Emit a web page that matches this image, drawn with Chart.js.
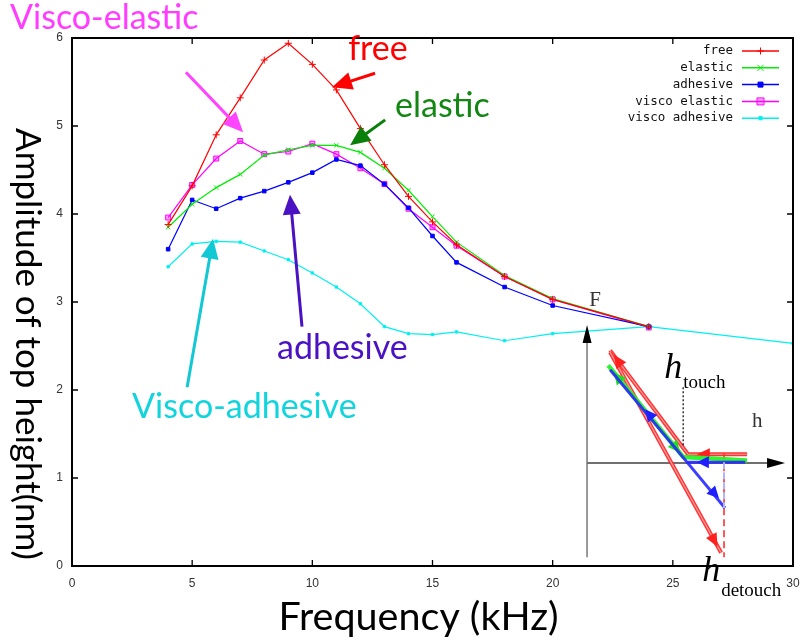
<!DOCTYPE html>
<html>
<head>
<meta charset="utf-8">
<script src="https://cdn.jsdelivr.net/npm/chart.js@4/dist/chart.umd.min.js"></script>
<style>
  html, body { margin: 0; padding: 0; background: #fff; }
  #wrap { width: 805px; height: 640px; position: relative; }
</style>
</head>
<body>
<div id="wrap"><canvas id="c" width="805" height="640"></canvas></div>
<script>
// Drive frequency (kHz) and measured amplitude of the top height (nm)
const freq = [4, 5, 6, 7, 8, 9, 10, 11, 12, 13, 14, 15, 16, 18, 20, 24];
const freeAmp = [3.88, 4.32, 4.90, 5.32, 5.75, 5.94, 5.70, 5.41, 4.97, 4.56, 4.20, 3.91, 3.65, 3.29, 3.03, 2.72];
const elasticAmp = [3.85, 4.11, 4.30, 4.45, 4.67, 4.73, 4.78, 4.78, 4.70, 4.52, 4.27, 3.97, 3.68, 3.30, 3.04, 2.72];
const adhesiveAmp = [3.60, 4.16, 4.06, 4.18, 4.26, 4.36, 4.47, 4.62, 4.55, 4.34, 4.07, 3.75, 3.45, 3.17, 2.96, 2.72];
const viscoElasticAmp = [3.96, 4.33, 4.63, 4.83, 4.68, 4.71, 4.80, 4.68, 4.52, 4.34, 4.06, 3.85, 3.64, 3.29, 3.03, 2.71];
const viscoAdhesiveFreq = [4, 5, 6, 7, 8, 9, 10, 11, 12, 13, 14, 15, 16, 18, 20, 24, 30];
const viscoAdhesiveAmp = [3.40, 3.66, 3.69, 3.68, 3.58, 3.48, 3.33, 3.17, 2.98, 2.72, 2.64, 2.63, 2.66, 2.56, 2.64, 2.72, 2.53];

const seriesNames = ['free', 'elastic', 'adhesive', 'visco elastic', 'visco adhesive'];
const xTickValues = [0, 5, 10, 15, 20, 25, 30];
const yTickValues = [0, 1, 2, 3, 4, 5, 6];

const xTitle = 'Frequency (kHz)';
const yTitle = 'Amplitude of top height(nm)';

const toPoints = (xs, ys) => xs.map((x, i) => ({ x, y: ys[i] }));

const seriesStyle = [
  { color: '#ff0000', pointStyle: 'cross', radius: 3.5, fill: '#ff0000' },
  { color: '#00ee00', pointStyle: 'crossRot', radius: 3, fill: '#00ee00' },
  { color: '#0000ff', pointStyle: 'rect', radius: 2.5, fill: '#0000ff' },
  { color: '#ff00ff', pointStyle: 'rect', radius: 3.5, fill: 'rgba(255,0,255,0.35)' },
  { color: '#00f0f0', pointStyle: 'rect', radius: 1.6, fill: '#00f0f0' }
];
const seriesData = [
  toPoints(freq, freeAmp),
  toPoints(freq, elasticAmp),
  toPoints(freq, adhesiveAmp),
  toPoints(freq, viscoElasticAmp),
  toPoints(viscoAdhesiveFreq, viscoAdhesiveAmp)
];

// Callout labels and their pointer arrows, in data units (kHz, nm)
const callouts = [
  { text: 'Visco-elastic', color: '#ff3cff', at: [-2.58, 6.10] },
  { text: 'free', color: '#ff0000', at: [11.49, 5.75] },
  { text: 'elastic', color: '#138713', at: [13.44, 5.10] },
  { text: 'adhesive', color: '#4a12c2', at: [8.53, 2.35] },
  { text: 'Visco-adhesive', color: '#12d4dc', at: [2.50, 1.68] }
];
const pointers = [
  { color: '#ff44ff', from: [4.74, 5.61], to: [7.12, 4.93] },
  { color: '#ff0000', from: [12.61, 5.60], to: [10.82, 5.44] },
  { color: '#0a800a', from: [13.03, 5.07], to: [11.57, 4.78] },
  { color: '#4a12c2', from: [9.57, 2.72], to: [9.07, 4.22] },
  { color: '#12c8d4', from: [4.79, 2.03], to: [5.87, 3.72] }
];

function arrow(ctx, x1, y1, x2, y2, color, width, headLen, headHalf) {
  const ang = Math.atan2(y2 - y1, x2 - x1);
  const bx = x2 - Math.cos(ang) * headLen, by = y2 - Math.sin(ang) * headLen;
  ctx.save();
  ctx.strokeStyle = color; ctx.fillStyle = color; ctx.lineWidth = width; ctx.lineCap = 'butt';
  ctx.beginPath(); ctx.moveTo(x1, y1); ctx.lineTo(bx + Math.cos(ang) * 2, by + Math.sin(ang) * 2); ctx.stroke();
  ctx.beginPath();
  ctx.moveTo(x2, y2);
  ctx.lineTo(bx + Math.sin(ang) * headHalf, by - Math.cos(ang) * headHalf);
  ctx.lineTo(bx - Math.sin(ang) * headHalf, by + Math.cos(ang) * headHalf);
  ctx.closePath(); ctx.fill();
  ctx.restore();
}

function head(ctx, x, y, ang, color, len, half) {
  const bx = x - Math.cos(ang) * len, by = y - Math.sin(ang) * len;
  ctx.save(); ctx.fillStyle = color;
  ctx.beginPath(); ctx.moveTo(x, y);
  ctx.lineTo(bx + Math.sin(ang) * half, by - Math.cos(ang) * half);
  ctx.lineTo(bx - Math.sin(ang) * half, by + Math.cos(ang) * half);
  ctx.closePath(); ctx.fill(); ctx.restore();
}

function drawMarker(ctx, style, x, y) {
  const r = style.radius;
  ctx.save();
  ctx.strokeStyle = style.color; ctx.fillStyle = style.fill; ctx.lineWidth = 1;
  ctx.beginPath();
  if (style.pointStyle === 'cross') {
    ctx.moveTo(x - r, y); ctx.lineTo(x + r, y); ctx.moveTo(x, y - r); ctx.lineTo(x, y + r); ctx.stroke();
  } else if (style.pointStyle === 'crossRot') {
    ctx.moveTo(x - r, y - r); ctx.lineTo(x + r, y + r); ctx.moveTo(x + r, y - r); ctx.lineTo(x - r, y + r); ctx.stroke();
  } else {
    ctx.rect(x - r, y - r, 2 * r, 2 * r); ctx.fill(); ctx.stroke();
  }
  ctx.restore();
}

// Frame with inward, mirrored ticks
const framePlugin = {
  id: 'frame',
  afterDatasetsDraw(chart) {
    const { ctx, chartArea: a, scales: { x, y } } = chart;
    ctx.save();
    ctx.strokeStyle = '#000'; ctx.lineWidth = 1.3;
    ctx.beginPath();
    xTickValues.forEach(v => {
      const p = x.getPixelForValue(v);
      ctx.moveTo(p, a.bottom); ctx.lineTo(p, a.bottom - 6);
      ctx.moveTo(p, a.top); ctx.lineTo(p, a.top + 6);
    });
    yTickValues.forEach(v => {
      const p = y.getPixelForValue(v);
      ctx.moveTo(a.left, p); ctx.lineTo(a.left + 6, p);
      ctx.moveTo(a.right, p); ctx.lineTo(a.right - 6, p);
    });
    ctx.stroke();
    ctx.lineWidth = 2;
    ctx.strokeRect(a.left, a.top, a.right - a.left, a.bottom - a.top);
    ctx.restore();
  }
};

// Key in the upper right: right-aligned label followed by a line sample
const keyPlugin = {
  id: 'key',
  afterDraw(chart) {
    const { ctx, chartArea: a } = chart;
    ctx.save();
    ctx.font = '12.5px "DejaVu Sans Mono"';
    ctx.textAlign = 'right'; ctx.textBaseline = 'middle'; ctx.fillStyle = '#111';
    chart.data.datasets.forEach((ds, i) => {
      const yy = a.top + 13 + i * 16.8;
      const tx = a.right - 60;
      ctx.fillText(ds.label, tx, yy);
      const st = seriesStyle[i];
      ctx.strokeStyle = st.color; ctx.lineWidth = 1.5;
      ctx.beginPath(); ctx.moveTo(tx + 9, yy); ctx.lineTo(tx + 46, yy); ctx.stroke();
      drawMarker(ctx, st, tx + 27.5, yy);
    });
    ctx.restore();
  }
};

// Callout texts and pointer arrows
const calloutPlugin = {
  id: 'callouts',
  afterDatasetsDraw(chart) {
    const { ctx, scales: { x, y } } = chart;
    ctx.save();
    ctx.font = '34px Lato';
    ctx.textAlign = 'left'; ctx.textBaseline = 'alphabetic';
    callouts.forEach(c => {
      ctx.fillStyle = c.color;
      ctx.fillText(c.text, x.getPixelForValue(c.at[0]), y.getPixelForValue(c.at[1]));
    });
    pointers.forEach(p => {
      arrow(ctx, x.getPixelForValue(p.from[0]), y.getPixelForValue(p.from[1]),
        x.getPixelForValue(p.to[0]), y.getPixelForValue(p.to[1]), p.color, 3, 20, 9);
    });
    ctx.restore();
  }
};

// Force-distance sketch (F versus h) placed in the lower right of the plot, in data units
const sketchPlugin = {
  id: 'sketch',
  afterDatasetsDraw(chart) {
    const { ctx, scales: { x, y } } = chart;
    const X = v => x.getPixelForValue(v), Y = v => y.getPixelForValue(v);
    const line = (pts, color, w, dash) => {
      ctx.save(); ctx.strokeStyle = color; ctx.lineWidth = w; ctx.lineJoin = 'round';
      if (dash) ctx.setLineDash(dash);
      ctx.beginPath(); pts.forEach((p, i) => (i ? ctx.lineTo(X(p[0]), Y(p[1])) : ctx.moveTo(X(p[0]), Y(p[1]))));
      ctx.stroke(); ctx.restore();
    };
    const tip = (p, q, color, len, half) => {
      const ang = Math.atan2(Y(q[1]) - Y(p[1]), X(q[0]) - X(p[0]));
      head(ctx, X(q[0]), Y(q[1]), ang, color, len, half);
    };
    ctx.save();
    // axes
    line([[21.43, 0.10], [21.43, 2.55]], '#808080', 1.6);
    tip([21.43, 2.0], [21.43, 2.74], '#000', 18, 4.5);
    line([[21.43, 1.17], [29.0, 1.17]], '#707070', 2);
    tip([28.0, 1.17], [29.67, 1.17], '#000', 18, 5);

    // free (red)
    const redEdge = 'rgba(255,40,40,0.95)', redCore = 'rgba(255,170,170,0.9)';
    [[[28.09, 1.27], [25.63, 1.27], [22.39, 2.45]], [[22.39, 2.43], [27.01, 0.15]]].forEach(pts => {
      line(pts, redEdge, 4); line(pts, redCore, 1.2);
    });
    tip([23.0, 2.22], [22.55, 2.40], '#ff2020', 13, 6);
    tip([27.5, 1.27], [26.0, 1.27], '#ff2020', 13, 6);
    tip([26.4, 0.45], [26.86, 0.22], '#ff2020', 13, 6);
    line([[27.13, 1.28], [27.13, 0.10]], '#ff3030', 1.6, [7, 4]);

    // elastic (green)
    line([[22.31, 2.28], [25.43, 1.24], [28.09, 1.20]], 'rgba(40,240,40,0.95)', 4.5);
    tip([23.2, 1.98], [22.55, 2.20], '#22dd22', 12, 6);
    tip([24.6, 1.52], [25.30, 1.29], '#22dd22', 12, 6);

    // adhesive (blue)
    line([[22.39, 2.23], [25.59, 1.18], [28.01, 1.18]], 'rgba(40,40,255,0.9)', 3);
    line([[25.59, 1.18], [27.17, 0.66]], 'rgba(40,40,255,0.9)', 3);
    line([[27.13, 1.18], [27.13, 0.66]], '#b4b4ff', 2, [7, 3]);
    tip([24.6, 1.52], [23.85, 1.78], '#2020ff', 12, 6);
    tip([27.3, 1.18], [26.0, 1.18], '#2020ff', 12, 6);
    tip([26.4, 0.92], [26.92, 0.77], '#2020ff', 12, 6);

    // labels
    ctx.fillStyle = '#333';
    ctx.textAlign = 'center'; ctx.textBaseline = 'middle';
    ctx.font = '21px "Liberation Serif"';
    ctx.fillText('F', X(21.76), Y(3.02));
    ctx.fillText('h', X(28.51), Y(1.64));
    ctx.fillStyle = '#000'; ctx.textAlign = 'left'; ctx.textBaseline = 'alphabetic';
    const sub = (main, subtxt, x0, yb, ys) => {
      ctx.font = 'italic 36px "Liberation Serif"';
      ctx.fillText(main, X(x0), Y(yb));
      const w = ctx.measureText(main).width;
      ctx.font = '19px "Liberation Serif"';
      ctx.fillText(subtxt, X(x0) + w + 1, Y(ys));
    };
    sub('h', 'touch', 24.64, 2.14, 2.02);
    sub('h', 'detouch', 26.22, -0.17, -0.34);
    line([[25.43, 2.03], [25.43, 1.35]], '#000', 1.2, [2, 2]);
    ctx.restore();
  }
};

// Axis titles
const titlePlugin = {
  id: 'titles',
  afterDraw(chart) {
    const { ctx, chartArea: a } = chart;
    ctx.save();
    ctx.fillStyle = '#000';
    ctx.textAlign = 'center'; ctx.textBaseline = 'middle';
    ctx.font = '39.5px Lato';
    ctx.fillText(xTitle, (a.left + a.right) / 2 - 14, 617);
    ctx.translate(27, 344);
    ctx.rotate(Math.PI / 2);
    ctx.font = '35px Lato';
    ctx.fillText(yTitle, 0, 0);
    ctx.restore();
  }
};

new Chart(document.getElementById('c'), {
  type: 'line',
  data: {
    datasets: seriesData.map((d, i) => ({
      label: seriesNames[i],
      data: d,
      borderColor: seriesStyle[i].color,
      backgroundColor: seriesStyle[i].fill,
      pointBorderColor: seriesStyle[i].color,
      pointBackgroundColor: seriesStyle[i].fill,
      pointStyle: seriesStyle[i].pointStyle,
      pointRadius: seriesStyle[i].radius,
      pointBorderWidth: 1,
      borderWidth: 1.2,
      tension: 0,
      fill: false
    }))
  },
  options: {
    responsive: false,
    devicePixelRatio: 1,
    animation: false,
    layout: { padding: { top: 38, right: 12, left: 0, bottom: 0 } },
    plugins: { legend: { display: false }, tooltip: { enabled: false }, title: { display: false } },
    scales: {
      x: {
        type: 'linear', min: 0, max: 30,
        afterBuildTicks: s => { s.ticks = xTickValues.map(v => ({ value: v })); },
        afterFit: s => { s.height = 74; s.paddingLeft = 0; s.paddingRight = 0; },
        grid: { display: false, drawTicks: false },
        border: { display: false },
        ticks: { padding: 10, color: '#333', font: { family: 'Liberation Sans', size: 12 } }
      },
      y: {
        type: 'linear', min: 0, max: 6,
        afterBuildTicks: s => { s.ticks = yTickValues.map(v => ({ value: v })); },
        afterFit: s => { s.width = 72; s.paddingTop = 0; s.paddingBottom = 0; },
        grid: { display: false, drawTicks: false },
        border: { display: false },
        ticks: { padding: 9, color: '#333', font: { family: 'Liberation Sans', size: 12 } }
      }
    }
  },
  plugins: [framePlugin, sketchPlugin, calloutPlugin, keyPlugin, titlePlugin]
});
</script>
</body>
</html>
